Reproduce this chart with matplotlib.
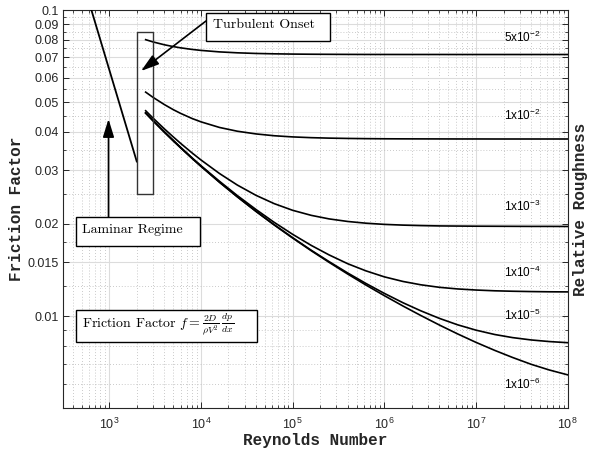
import matplotlib
matplotlib.use("Agg")
import matplotlib.pyplot as plt
from matplotlib.patches import Rectangle, FancyArrowPatch
from matplotlib.ticker import LogLocator, NullFormatter, FixedLocator

re_turb = [2500, 3000, 4000, 5000, 6000, 8000, 1e4, 1.6e4, 2.5e4, 4e4, 6.3e4,
           1e5, 1.6e5, 2.5e5, 4e5, 6.3e5, 1e6, 1.6e6, 2.5e6, 4e6, 6.3e6,
           1e7, 1.6e7, 2.5e7, 4e7, 6.3e7, 1e8]

# friction factor for each relative roughness
f_5e2 = [0.08000, 0.07867, 0.07698, 0.07595, 0.07524, 0.07435, 0.07380, 0.07297, 0.07247,
         0.07212, 0.07192, 0.07178, 0.07170, 0.07165, 0.07161, 0.07158, 0.07157, 0.07156,
         0.07156, 0.07156, 0.07155, 0.07155, 0.07155, 0.07155, 0.07155, 0.07155, 0.07155]
f_1e2 = [0.05392, 0.05187, 0.04910, 0.04726, 0.04597, 0.04423, 0.04313, 0.04133, 0.04018,
         0.03937, 0.03884, 0.03850, 0.03828, 0.03815, 0.03806, 0.03800, 0.03796, 0.03794,
         0.03793, 0.03792, 0.03791, 0.03791, 0.03790, 0.03790, 0.03790, 0.03790, 0.03790]
f_1e3 = [0.04688, 0.04440, 0.04090, 0.03850, 0.03670, 0.03415, 0.03239, 0.02922, 0.02680,
         0.02480, 0.02331, 0.02217, 0.02134, 0.02078, 0.02038, 0.02012, 0.01994, 0.01983,
         0.01976, 0.01971, 0.01969, 0.01967, 0.01966, 0.01965, 0.01964, 0.01964, 0.01963]
f_1e4 = [0.04614, 0.04361, 0.04001, 0.03752, 0.03563, 0.03291, 0.03103, 0.02756, 0.02476,
         0.02229, 0.02025, 0.01851, 0.01702, 0.01585, 0.01483, 0.01406, 0.01344, 0.01298,
         0.01266, 0.01242, 0.01227, 0.01217, 0.01210, 0.01206, 0.01203, 0.01201, 0.01200]
f_1e5 = [0.04606, 0.04352, 0.03992, 0.03740, 0.03552, 0.03280, 0.03090, 0.02737, 0.02455,
         0.02200, 0.01989, 0.01805, 0.01641, 0.01507, 0.01383, 0.01279, 0.01187, 0.01106,
         0.01041, 0.00983, 0.00937, 0.00900, 0.00871, 0.00851, 0.00836, 0.00826, 0.00819]
f_1e6 = [0.04606, 0.04352, 0.03991, 0.03739, 0.03550, 0.03279, 0.03089, 0.02736, 0.02452,
         0.02197, 0.01986, 0.01800, 0.01635, 0.01499, 0.01372, 0.01264, 0.01167, 0.01079,
         0.01005, 0.00935, 0.00875, 0.00821, 0.00773, 0.00733, 0.00696, 0.00667, 0.00643]

# laminar line, f = 64/Re, drawn up to Re = 2000
re_lam = [600, 2000]
f_lam = [0.1067, 0.032]

curve_labels = [r"5x10$^{-2}$", r"1x10$^{-2}$", r"1x10$^{-3}$",
                r"1x10$^{-4}$", r"1x10$^{-5}$", r"1x10$^{-6}$"]
label_f = [0.0788, 0.0437, 0.0220, 0.0134, 0.0097, 0.0058]

y_ticks = [0.01, 0.015, 0.02, 0.03, 0.04, 0.05, 0.06, 0.07, 0.08, 0.09, 0.1]
y_ticklabels = ["0.01", "0.015", "0.02", "0.03", "0.04", "0.05", "0.06",
                "0.07", "0.08", "0.09", "0.1"]
y_minor = [0.006, 0.007, 0.008, 0.009, 0.0125, 0.0175, 0.025, 0.035, 0.045,
           0.055, 0.065, 0.075, 0.085, 0.095]

plt.rcParams["font.family"] = ["Liberation Sans", "DejaVu Sans"]
plt.rcParams["mathtext.fontset"] = "custom"
plt.rcParams["mathtext.rm"] = "Liberation Sans"
plt.rcParams["mathtext.it"] = "Liberation Sans:italic"
plt.rcParams["mathtext.bf"] = "Liberation Sans:bold"

W, H = 589, 453
fig = plt.figure(figsize=(W / 100, H / 100), dpi=100)


def fx(px):
    return px / W


def fy(py):
    return 1 - py / H


ax = fig.add_axes([fx(63.3), fy(408.3), (567.7 - 63.3) / W, (408.3 - 10) / H])
ax.set_xscale("log")
ax.set_yscale("log")

ax.plot(re_lam, f_lam, color="k", lw=1.3, zorder=3)
for f in [f_5e2, f_1e2, f_1e3, f_1e4, f_1e5, f_1e6]:
    ax.plot(re_turb, f, color="k", lw=1.2, zorder=3)

for lab, yv in zip(curve_labels, label_f):
    ax.text(2e7, yv, lab, fontsize=8.5, ha="left", va="baseline")

# turbulent onset window
ax.add_patch(Rectangle((2000, 0.025), 1000, 0.06, fill=False, ec="#333333", lw=1.0, zorder=4))

ax.set_xlim(10 ** 2.5, 1e8)
ax.set_ylim(0.005, 0.1)
ax.xaxis.set_major_locator(LogLocator(base=10, numticks=12))
ax.xaxis.set_minor_locator(LogLocator(base=10, subs=range(2, 10), numticks=12))
ax.xaxis.set_minor_formatter(NullFormatter())
ax.yaxis.set_major_locator(FixedLocator(y_ticks))
ax.set_yticklabels(y_ticklabels)
ax.yaxis.set_minor_locator(FixedLocator(y_minor))
ax.yaxis.set_minor_formatter(NullFormatter())

ax.grid(True, which="major", color="#dcdcdc", lw=0.8, ls="-")
ax.grid(True, which="minor", color="#b8b8b8", lw=0.6, ls=(0, (1, 2.5)))
ax.set_axisbelow(True)
ax.tick_params(which="both", direction="in", top=True, right=True, color="#262626",
               labelsize=9, labelcolor="#262626")
ax.tick_params(which="major", length=4, width=0.7)
ax.tick_params(which="minor", length=2.2, width=0.6)
ax.tick_params(axis="x", pad=6)
ax.tick_params(axis="y", pad=3)
for s in ax.spines.values():
    s.set_color("#262626")
    s.set_linewidth(0.8)

lab_font = dict(family="Liberation Mono", weight="bold", fontsize=11.5, color="#262626")
fig.text(fx(315.5), fy(440), "Reynolds Number", ha="center", va="center", **lab_font)
fig.text(fx(17), fy(209), "Friction Factor", ha="center", va="center", rotation=90, **lab_font)
fig.text(fx(581), fy(209), "Relative Roughness", ha="center", va="center", rotation=90, **lab_font)

# text boxes
box_font = dict(family="cmr10", fontsize=10, color="k", math_fontfamily="cm")


def text_box(x0, y0, x1, y1, tx, ty, s):
    fig.add_artist(Rectangle((fx(x0), fy(y1)), (x1 - x0) / W, (y1 - y0) / H,
                             transform=fig.transFigure, fc="white", ec="k", lw=1.0, zorder=5))
    fig.text(fx(tx), fy(ty), s, ha="left", va="baseline", zorder=6, **box_font)


text_box(206, 12.7, 330, 41, 212.7, 28.5, "Turbulent Onset")
text_box(76, 217, 200, 246, 82, 233.3, "Laminar Regime")
text_box(76, 310, 257, 342, 82, 328, r"Friction Factor $f = \frac{2D}{\rho V^2}\,\frac{dp}{dx}$")

arrow_kw = dict(transform=fig.transFigure, arrowstyle="-|>,head_length=0.55,head_width=0.17",
                mutation_scale=20, color="k", lw=1.2, zorder=6, shrinkA=0, shrinkB=0)
fig.add_artist(FancyArrowPatch((fx(206), fy(21)), (fx(141), fy(71)), **arrow_kw))
fig.add_artist(FancyArrowPatch((fx(108.5), fy(217)), (fx(108.5), fy(119)), **arrow_kw))

fig.savefig("out.png", dpi=100)
